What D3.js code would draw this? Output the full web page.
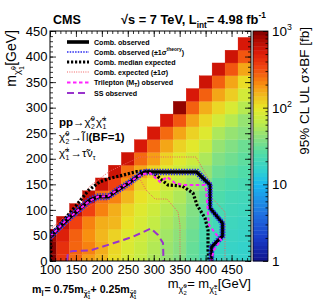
<!DOCTYPE html>
<html><head><meta charset="utf-8">
<script src="https://cdn.jsdelivr.net/npm/d3@7"></script>
<style>
body{margin:0;background:#fff}
svg{display:block}
text{font-family:"Liberation Sans",Arial,Helvetica,sans-serif;fill:#000}
</style>
</head><body>
<svg id="c" width="315" height="302"></svg>
<script>
// ---------------- data ----------------
const mChargino = [100,125,150,175,200,225,250,275,300,325,350,375,400,425,450,475];
const mLSP = [0,25,50,75,100,125,150,175,200,225,250,275,300,325,350,375,400,425];
// 95% CL UL sigma x BF [fb], one list per chargino mass, from mLSP = 0 upwards
const upperLimitFb = [
 [1000, 950, 850],
 [400, 420, 500, 650],
 [260, 270, 280, 350, 650],
 [180, 220, 200, 220, 350, 650],
 [150, 160, 150, 160, 220, 250, 600],
 [110, 115, 120, 150, 160, 220, 350, 600],
 [82, 86, 90, 105, 115, 150, 200, 250, 600],
 [68, 72, 76, 82, 90, 105, 120, 170, 260, 550],
 [55, 58, 62, 68, 75, 85, 100, 120, 180, 260, 550],
 [45, 47, 50, 55, 60, 68, 78, 92, 120, 170, 260, 550],
 [38, 40, 42, 46, 50, 56, 64, 74, 90, 120, 170, 300, 900],
 [29, 30, 32, 35, 38, 42, 50, 60, 75, 95, 120, 170, 280, 550],
 [21, 22, 23, 25, 28, 32, 38, 45, 55, 70, 90, 115, 160, 280, 600],
 [18, 18, 19, 20, 22, 24, 27, 32, 38, 45, 55, 80, 115, 170, 280, 600],
 [17, 17, 18, 19, 20, 21, 24, 28, 33, 38, 45, 60, 85, 125, 170, 300, 600],
 [16, 16, 17, 18, 19, 20, 22, 25, 28, 32, 40, 45, 60, 80, 110, 170, 300, 550]
];
const binWidth = 25;

// contours [mChargino, mLSP]
const combObserved = [[100,47],[128.9,76.9],[154.6,99.8],[177.1,119.4],[193.1,125.8],[212.4,125.8],[225.3,135.6],[250.9,152],[276.8,171.6],[285,174.2],[382.8,174.2],[408.5,148.7],[408.5,103.7],[432.6,74.4],[432.6,48.9],[411.4,27.4],[411.4,0]];
const combObservedTheoryUp = [[100,52],[128,82],[153,105],[176,124.5],[193,131],[212,131],[225,141],[251,157.5],[277,177],[285,179],[385,179],[412,151],[412,105],[436.5,75],[436.5,47],[415,25],[415,0]];
const combObservedTheoryDown = [[101,42],[130,71.5],[156,94.5],[178,114],[193,120.5],[212,120.5],[226,130],[251,146.5],[277,166],[284,169.5],[380.5,169.5],[405,146.5],[405,102],[428.5,73],[428.5,51],[407.5,29.5],[407.5,0]];
const combMedianExpected = [[101,0],[101,51],[125,78],[150,108],[174,138],[196,155],[216,162],[241,168],[267,175],[293,176],[306.3,166.3],[327.5,148.7],[354.5,146.8],[375.7,133.1],[383.4,109.6],[398.8,84.1],[404.6,60.7],[404.6,21.5],[406.5,0]];
const combExpectedUp = [[103.9,64.6],[138.6,95.9],[177.1,146.8],[215.7,176.1],[273.5,203.5],[381.5,203.5],[412.3,148.7],[412.3,123.3],[437.4,95.9],[437.4,0]];
const combExpectedDown = [[101.9,41],[128.9,68.5],[157.8,95.9],[186.8,113.5],[225.3,127.2],[254.2,146.8],[273.5,160.5],[285.1,138.9],[302.4,121.3],[325.6,121.3],[346.8,95.9],[350.6,70.5],[350.6,0]];
const trileptonObserved = [[101,48],[129,78],[155,100],[177,118],[193,126],[212,127],[225,136],[251,153],[277,170],[292.8,172.2],[312.1,154.6],[325.6,164.4],[341,152.6],[356.4,148.7],[398.8,148.7],[400.8,139],[406.5,70.5],[420,52.8],[429.7,41],[416.2,21.5],[410.4,0]];
const ssObserved = [[132.8,0],[134.7,17.6],[144.3,19.6],[177.1,20.5],[221.5,34.6],[260,47.6],[294.7,63.6],[308.2,50.9],[317.9,35.2],[318.8,0]];

const xTicks = [100,150,200,250,300,350,400,450];
const yTicks = [0,50,100,150,200,250,300,350,400,450];
const zTicks = [1,10,100,1000];
const zTickExp = ["0","1","2","3"];

// palette (ROOT-like rainbow)
const paletteValues = [1,2,4,7,10,15,25,40,65,100,140,200,350,550,800,1000];
const paletteColors = ["#10148c","#1a3cc8","#1f6fe0","#1e9ae8","#19b8f0","#30d0d0","#50dca8","#88e080","#c0ec48","#e8e828","#f0c020","#f89010","#f04010","#d81808","#a80800","#800000"];

// ---------------- drawing ----------------
const svg = d3.select("#c");
const L = 50, R = 251, T = 31, B = 261;
const x = d3.scaleLinear().domain([100, 487.5]).range([L, R]);
const y = d3.scaleLinear().domain([0, 450]).range([B, T]);
const color = d3.scaleLog().domain(paletteValues).range(paletteColors).interpolate(d3.interpolateRgb).clamp(true);

svg.append("clipPath").attr("id","clip").append("rect").attr("x",L).attr("y",T).attr("width",R-L).attr("height",B-T);
const plot = svg.append("g").attr("clip-path","url(#clip)");

// cells
const cells = [];
mChargino.forEach((mc, i) => upperLimitFb[i].forEach((v, j) => cells.push({mc, ml: mLSP[j], v})));
plot.selectAll("rect.cell").data(cells).join("rect")
  .attr("x", d => x(d.mc - binWidth/2))
  .attr("y", d => y(d.ml + binWidth/2))
  .attr("width", d => x(d.mc + binWidth/2) - x(d.mc - binWidth/2))
  .attr("height", d => y(d.ml - binWidth/2) - y(d.ml + binWidth/2))
  .attr("fill", d => color(d.v))
  .attr("stroke", d => color(d.v)).attr("stroke-width", 0.3);

// lines
const line = d3.line().x(d => x(d[0])).y(d => y(d[1]));
const styles = {
  expUp:   {stroke:"#f06060", w:1, dash:"1,1.3"},
  expDown: {stroke:"#f06060", w:1, dash:"1,1.3"},
  ss:      {stroke:"#9933cc", w:2, dash:"7,4"},
  median:  {stroke:"#000", w:3.2, dash:"2.2,1.8"},
  obs:     {stroke:"#000", w:3.6, dash:null},
  theory:  {stroke:"#2a2af0", w:1.6, dash:"1.5,1.2"},
  tri:     {stroke:"#ff22ff", w:2, dash:"3.5,2.5"}
};
function drawLine(data, st, g) {
  (g||plot).append("path").attr("d", line(data)).attr("fill","none")
    .attr("stroke", st.stroke).attr("stroke-width", st.w)
    .attr("stroke-dasharray", st.dash).attr("stroke-linejoin","miter");
}
drawLine(combExpectedUp, styles.expUp);
drawLine(combExpectedDown, styles.expDown);
drawLine(ssObserved, styles.ss);
drawLine(combMedianExpected, styles.median);
drawLine(combObserved, styles.obs);
drawLine(combObservedTheoryUp, styles.theory);
drawLine(combObservedTheoryDown, styles.theory);
drawLine(trileptonObserved, styles.tri);

// frame & axes
svg.append("rect").attr("x",L).attr("y",T).attr("width",R-L).attr("height",B-T)
  .attr("fill","none").attr("stroke","#000").attr("stroke-width",1);

const xMinor = d3.range(100, 488, 10);
const yMinor = d3.range(0, 451, 10);
function axisStyle(g){ g.select(".domain").remove(); g.selectAll("line").attr("stroke","#000").attr("stroke-width",0.8); }
svg.append("g").attr("transform",`translate(0,${B})`)
  .call(d3.axisBottom(x).tickValues(xMinor).tickSize(-3).tickFormat("")).call(axisStyle);
svg.append("g").attr("transform",`translate(0,${T})`)
  .call(d3.axisTop(x).tickValues(xMinor).tickSize(-3).tickFormat("")).call(axisStyle);
svg.append("g").attr("transform",`translate(0,${T})`)
  .call(d3.axisTop(x).tickValues(xTicks).tickSize(-6).tickFormat("")).call(axisStyle);
const xa = svg.append("g").attr("transform",`translate(0,${B})`)
  .call(d3.axisBottom(x).tickValues(xTicks).tickSize(-6).tickPadding(4)).call(axisStyle);
xa.selectAll("text").attr("font-size",13).attr("font-family","Liberation Sans, Arial, sans-serif").attr("fill","#000");

svg.append("g").attr("transform",`translate(${L},0)`)
  .call(d3.axisLeft(y).tickValues(yMinor).tickSize(-3).tickFormat("")).call(axisStyle);
svg.append("g").attr("transform",`translate(${R},0)`)
  .call(d3.axisRight(y).tickValues(yMinor).tickSize(-3).tickFormat("")).call(axisStyle);
svg.append("g").attr("transform",`translate(${R},0)`)
  .call(d3.axisRight(y).tickValues(yTicks).tickSize(-6).tickFormat("")).call(axisStyle);
const ya = svg.append("g").attr("transform",`translate(${L},0)`)
  .call(d3.axisLeft(y).tickValues(yTicks).tickSize(-6).tickPadding(2.5)).call(axisStyle);
ya.selectAll("text").attr("font-size",13).attr("font-family","Liberation Sans, Arial, sans-serif").attr("fill","#000");

// colour bar
const CL = 253, CR = 268;
const z = d3.scaleLog().domain([1, 1000]).range([B, T]);
const nBands = 60;
const bands = d3.range(nBands).map(k => Math.pow(10, 3*k/nBands));
svg.selectAll("rect.band").data(bands).join("rect")
  .attr("x", CL).attr("width", CR-CL)
  .attr("y", d => z(d*Math.pow(10,3/nBands)))
  .attr("height", d => z(d) - z(d*Math.pow(10,3/nBands)) + 0.4)
  .attr("fill", d => color(d*Math.pow(10,1.5/nBands)));
svg.append("rect").attr("x",CL).attr("y",T).attr("width",CR-CL).attr("height",B-T)
  .attr("fill","none").attr("stroke","#000").attr("stroke-width",0.8);
const zMinor = [];
[1,10,100].forEach(d => [2,3,4,5,6,7,8,9].forEach(m => zMinor.push(d*m)));
svg.append("g").attr("transform",`translate(${CR},0)`)
  .call(d3.axisRight(z).tickValues(zMinor).tickSize(-2.5).tickFormat("")).call(axisStyle);
svg.append("g").attr("transform",`translate(${CR},0)`)
  .call(d3.axisRight(z).tickValues(zTicks).tickSize(-5).tickFormat("")).call(axisStyle);

// rich text helper: parts = {t, s, dy, b} or {stack:[...]}; sizes relative to base
function rich(parent, px, py, parts, size, opts) {
  opts = opts || {};
  const g = parent.append("g");
  const inner = g.append("g");
  let cx = 0;
  function put(p, atx) {
    const el = inner.append("text").attr("x", atx).attr("y", (p.dy||0)*size)
      .attr("font-size", size*(p.s||1))
      .attr("font-weight", (p.b!==undefined ? p.b : opts.bold) ? "bold" : "normal")
      .text(p.t);
    return el.node().getComputedTextLength();
  }
  parts.forEach(p => {
    if (p.stack) { let w = 0; p.stack.forEach(q => { w = Math.max(w, put(q, cx)); }); cx += w + (opts.gap||0.5); }
    else cx += put(p, cx) + (p.pad||0);
  });
  let shift = 0;
  if (opts.anchor === "end") shift = -cx; else if (opts.anchor === "middle") shift = -cx/2;
  inner.attr("transform", `translate(${shift},0)`);
  g.attr("transform", `translate(${px},${py})` + (opts.rotate ? ` rotate(${opts.rotate})` : ""));
  return g;
}
const CHI = "\u03C7\u0303";

// colour bar labels
zTicks.forEach((v, k) => {
  if (v === 1) rich(svg, 272, z(v)+5, [{t:"1"}], 13.5);
  else if (v === 10) rich(svg, 272, z(v)+5, [{t:"10"}], 13.5);
  else rich(svg, 272, z(v)+5, [{t:"10"},{t:zTickExp[k], s:0.65, dy:-0.45}], 13.5);
});
// colour bar title
rich(svg, 309, 27, [{t:"95% CL UL \u03C3\u00D7BF [fb]"}], 13.5, {anchor:"end", rotate:-90});

// axis titles
rich(svg, 16, 30, [{t:"m"},{t:CHI, s:0.7, dy:0.32},{stack:[{t:"0", s:0.45, dy:0.02},{t:"1", s:0.45, dy:0.55}]},{t:" [GeV]"}], 14, {anchor:"end", rotate:-90});
rich(svg, 251, 288, [{t:"m"},{t:CHI, s:0.7, dy:0.32},{stack:[{t:"0", s:0.45, dy:0.02},{t:"2", s:0.45, dy:0.55}]},
  {t:" = m"},{t:CHI, s:0.7, dy:0.32},{stack:[{t:"\u00B1", s:0.45, dy:0.05},{t:"1", s:0.45, dy:0.55}]},{t:" [GeV]"}], 13, {anchor:"end"});

// title
rich(svg, 53, 24, [{t:"CMS"}], 12.5, {bold:true});
rich(svg, 121, 24, [{t:"\u221As = 7 TeV, L"},{t:"int", s:0.65, dy:0.3},{t:" = 4.98 fb"},{t:"-1", s:0.65, dy:-0.45}], 12.8, {bold:true});

// bottom formula
rich(svg, 32, 293, [{t:"m"},{t:"l\u0303", s:0.7, dy:0.3, pad:1},{t:" = 0.75m"},{t:CHI, s:0.65, dy:0.3},{stack:[{t:"\u00B1", s:0.42, dy:0.05},{t:"1", s:0.42, dy:0.55}]},
  {t:" + 0.25m"},{t:CHI, s:0.65, dy:0.3},{stack:[{t:"0", s:0.42, dy:0.05},{t:"1", s:0.42, dy:0.55}]}], 10.6, {bold:true});

// process text
rich(svg, 59, 126, [{t:"pp ", b:true},{t:"\u2192 "},{t:CHI, pad:0.5},{stack:[{t:"0", s:0.6, dy:-0.45},{t:"2", s:0.6, dy:0.3}]},{t:" "},{t:CHI, pad:0.5},{stack:[{t:"\u00B1", s:0.6, dy:-0.45},{t:"1", s:0.6, dy:0.3}]}], 11.5, {gap:1});
rich(svg, 59, 141, [{t:CHI, pad:0.5},{stack:[{t:"0", s:0.6, dy:-0.45},{t:"2", s:0.6, dy:0.3}]},{t:" \u2192 "},{t:"l\u0303", pad:1.5},{t:"l "},{t:"(BF=1)", b:true}], 11.5, {gap:1});
rich(svg, 59, 157, [{t:CHI, pad:0.5},{stack:[{t:"\u00B1", s:0.6, dy:-0.45},{t:"1", s:0.6, dy:0.3}]},{t:" \u2192 "},{t:"\u03C4\u0303", pad:0.5},{t:"\u03BD"},{t:"\u03C4", s:0.6, dy:0.3}], 11.5, {gap:1});

// legend
const legendEntries = [
  {st: styles.obs, parts:[{t:"Comb. observed"}]},
  {st: styles.theory, parts:[{t:"Comb. observed (\u00B11\u03C3"},{t:"theory", s:0.7, dy:-0.45},{t:")"}]},
  {st: styles.median, parts:[{t:"Comb. median expected"}]},
  {st: styles.expUp, parts:[{t:"Comb. expected (\u00B11\u03C3)"}]},
  {st: styles.tri, parts:[{t:"Trilepton (M"},{t:"T", s:0.7, dy:0.3},{t:") observed"}]},
  {st: styles.ss, parts:[{t:"SS observed"}]}
];
const legendY = [42, 52, 62, 72, 82.5, 93];
legendEntries.forEach((e, k) => {
  const yy = legendY[k];
  svg.append("line").attr("x1",67).attr("x2",89).attr("y1",yy).attr("y2",yy)
    .attr("stroke",e.st.stroke).attr("stroke-width",e.st.w).attr("stroke-dasharray",e.st.dash);
  rich(svg, 94, yy+2.5, e.parts, 7.1, {bold:true});
});
</script>
</body></html>
